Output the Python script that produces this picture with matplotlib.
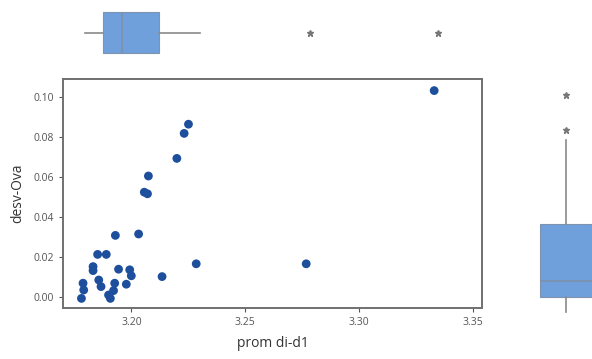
import numpy as np
import matplotlib
matplotlib.use("Agg")
import matplotlib.pyplot as plt

plt.rcParams['font.family'] = ['Open Sans', 'DejaVu Sans']

# prom di-d1 vs desv-Ova
prom = [3.2251, 3.2232, 3.2200, 3.2075, 3.2057, 3.2071, 3.1930, 3.2032,
        3.1852, 3.1890, 3.1832, 3.1832, 3.1944, 3.1993, 3.2000, 3.2135,
        3.2285, 3.1788, 3.1791, 3.1781, 3.1857, 3.1867, 3.1927, 3.1922,
        3.1978, 3.1900, 3.1908, 3.2768, 3.3330]
desv = [0.0864, 0.0818, 0.0693, 0.0605, 0.0524, 0.0516, 0.0308, 0.0315,
        0.0213, 0.0213, 0.0152, 0.0132, 0.0139, 0.0136, 0.0106, 0.0102,
        0.0166, 0.0069, 0.0035, -0.0007, 0.0085, 0.0052, 0.0069, 0.0032,
        0.0064, 0.0010, -0.0007, 0.0166, 0.1032]

xticks = [3.20, 3.25, 3.30, 3.35]
yticks = [0.00, 0.02, 0.04, 0.06, 0.08, 0.10]

W, H = 592, 359
fig = plt.figure(figsize=(W / 100, H / 100), dpi=100)


def px_axes(x0, y0, x1, y1):
    # pixel box (top-left origin) -> figure axes
    return fig.add_axes([x0 / W, 1 - y1 / H, (x1 - x0) / W, (y1 - y0) / H])


def box_stats(values, whis=1.2):
    # quartiles at (n+1)p positions, like Minitab
    v = np.sort(np.asarray(values))
    q1, med, q3 = np.percentile(v, [25, 50, 75], method='weibull')
    iqr = q3 - q1
    lo, hi = q1 - whis * iqr, q3 + whis * iqr
    inside = v[(v >= lo) & (v <= hi)]
    return [dict(med=med, q1=q1, q3=q3, whislo=inside.min(), whishi=inside.max(),
                 fliers=v[(v < lo) | (v > hi)])]


ax = px_axes(63, 79, 482, 308)
ax_top = px_axes(63, 5, 482, 60)
ax_right = px_axes(520, 81, 592, 322)

box_col = '#6fa0dc'
edge_col = '#7f93b0'
grey = '#8a8a8a'

ax.scatter(prom, desv, s=40, color='#1d4f9c', edgecolors='none', zorder=3)
ax.set_xlim(3.170, 3.354)
ax.set_ylim(-0.0055, 0.109)
ax.set_xticks(xticks)
ax.set_xticklabels([f"{t:.2f}" for t in xticks])
ax.set_yticks(yticks)
ax.set_yticklabels([f"{t:.2f}" for t in yticks])
ax.tick_params(labelsize=7.5, colors='#555555', length=3, width=0.8)
for s in ax.spines.values():
    s.set_color('#707070')
    s.set_linewidth(1.4)
ax.set_xlabel("prom di-d1", fontsize=10, color='#333333', labelpad=6)
ax.set_ylabel("desv-Ova", fontsize=10, color='#333333', labelpad=6)

props = dict(patch_artist=True, showcaps=False,
             boxprops=dict(facecolor=box_col, edgecolor=edge_col, linewidth=0.8),
             medianprops=dict(color='#7f8fa6', linewidth=1.1),
             whiskerprops=dict(color=grey, linewidth=1.2),
             flierprops=dict(marker='*', markersize=5, markerfacecolor='#777777',
                             markeredgecolor='#777777'))

ax_top.bxp(box_stats(prom), vert=False, positions=[0.5], widths=0.745, **props)
ax_top.set_xlim(3.1685, 3.3525)
ax_top.set_ylim(0, 1)
ax_top.axis('off')

ax_right.bxp(box_stats(desv), vert=True, positions=[0.639], widths=0.72, **props)
ax_right.set_ylim(-0.0055, 0.1098)
ax_right.set_xlim(0, 1)
ax_right.axis('off')

fig.savefig("out.png", dpi=100)
